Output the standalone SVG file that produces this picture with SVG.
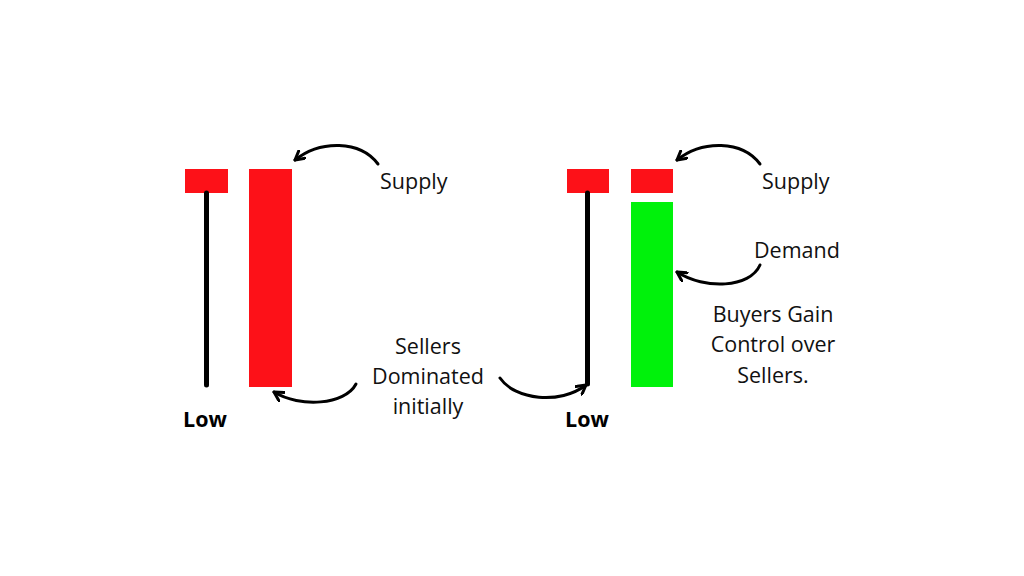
<svg xmlns="http://www.w3.org/2000/svg" width="1024" height="576" viewBox="0 0 1024 576">
<style>
.red{fill:#fd1118}
.green{fill:#00f20b}
.wick{stroke:#000;stroke-width:5;stroke-linecap:round;fill:none}
.arr{stroke:#000;stroke-width:3;fill:none;stroke-linecap:round}
.t{font-family:"Open Sans","Liberation Sans",sans-serif;font-size:21.5px;fill:#111}
.b{font-family:"Open Sans","Liberation Sans",sans-serif;font-size:21.5px;font-weight:bold;fill:#000}
</style>
<defs>
<marker id="ah" viewBox="0 0 12 12" refX="10" refY="6" markerWidth="12" markerHeight="12" markerUnits="userSpaceOnUse" orient="auto">
<path d="M1,1 L10,6 L1,11" fill="none" stroke="#000" stroke-width="3" stroke-linecap="round" stroke-linejoin="round"/>
</marker>
</defs>
<rect width="1024" height="576" fill="#fff"/>
<g id="candle1">
<rect class="red" x="185" y="169" width="43" height="24"/>
<line class="wick" x1="206.5" y1="193" x2="206.5" y2="385"/>
<rect class="red" x="249" y="169" width="43" height="218"/>
</g>
<g id="candle2">
<rect class="red" x="567" y="169" width="42" height="24"/>
<line class="wick" x1="587.5" y1="193" x2="587.5" y2="384"/>
<rect class="red" x="631" y="169" width="42" height="24"/>
<rect class="green" x="631" y="202" width="42" height="185"/>
</g>
<g id="connectors">
<path class="arr" marker-end="url(#ah)" d="M378,164 C360,140 320,140 295,160"/>
<path class="arr" marker-end="url(#ah)" d="M356,384 C345,405 300,408 274,392"/>
<path class="arr" marker-end="url(#ah)" d="M500,378 C515,400 560,405 586,385"/>
<path class="arr" marker-end="url(#ah)" d="M760,164 C742,140 702,140 677,160"/>
<path class="arr" marker-end="url(#ah)" d="M760,265 C750,288 705,290 677,272"/>
</g>
<g id="labels">
<text class="t" x="380" y="189">Supply</text>
<text class="t" x="762" y="189">Supply</text>
<text class="t" x="754" y="258">Demand</text>
<text class="t" text-anchor="middle" x="428" y="354">Sellers</text>
<text class="t" text-anchor="middle" x="428" y="384">Dominated</text>
<text class="t" text-anchor="middle" x="428" y="414">initially</text>
<text class="t" text-anchor="middle" x="773" y="322">Buyers Gain</text>
<text class="t" text-anchor="middle" x="773" y="352">Control over</text>
<text class="t" text-anchor="middle" x="773" y="383">Sellers.</text>
<text class="b" text-anchor="middle" x="205" y="427">Low</text>
<text class="b" text-anchor="middle" x="587" y="427">Low</text>
</g>
</svg>
